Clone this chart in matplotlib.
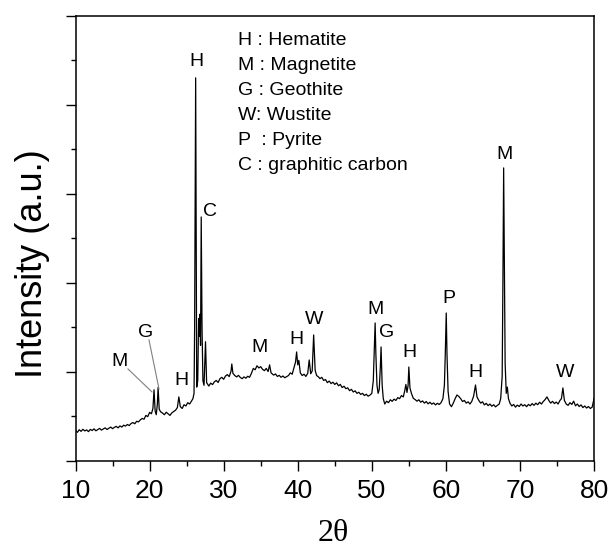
import matplotlib
matplotlib.use('Agg')
from matplotlib import pyplot as plt
from matplotlib.ticker import MultipleLocator

plt.rcParams['font.family'] = ['Liberation Sans', 'DejaVu Sans']

# XRD pattern (2-theta in degrees, intensity in a.u.)
two_theta = [
    10.00, 10.25, 10.50, 10.75, 11.00, 11.25, 11.50, 11.75, 12.00, 12.25,
    12.50, 12.75, 13.00, 13.25, 13.50, 13.75, 14.00, 14.25, 14.50, 14.75,
    15.00, 15.25, 15.50, 15.75, 16.00, 16.25, 16.50, 16.75, 17.00, 17.25,
    17.50, 17.75, 18.00, 18.25, 18.50, 18.75, 19.00, 19.25, 19.50, 19.75,
    20.00, 20.25, 20.45, 20.60, 20.75, 20.90, 21.05, 21.15, 21.30, 21.50,
    21.75, 22.00, 22.25, 22.50, 22.75, 23.00, 23.25, 23.50, 23.75, 23.95,
    24.15, 24.40, 24.65, 24.90, 25.15, 25.40, 25.65, 25.85, 26.00, 26.08,
    26.22, 26.36, 26.50, 26.62, 26.72, 26.80, 26.88, 26.97, 27.08, 27.20,
    27.35, 27.55, 27.70, 27.85, 28.00, 28.25, 28.50, 28.75, 29.00, 29.25,
    29.50, 29.75, 30.00, 30.25, 30.50, 30.75, 31.00, 31.10, 31.25, 31.50,
    31.75, 32.00, 32.25, 32.50, 32.75, 33.00, 33.25, 33.50, 33.75, 34.00,
    34.25, 34.50, 34.75, 35.00, 35.25, 35.50, 35.75, 36.00, 36.20, 36.40,
    36.75, 37.00, 37.25, 37.50, 37.75, 38.00, 38.25, 38.50, 38.75, 39.00,
    39.25, 39.50, 39.70, 39.85, 40.00, 40.15, 40.35, 40.60, 40.85, 41.10,
    41.35, 41.55, 41.75, 41.95, 42.15, 42.35, 42.55, 42.80, 43.00, 43.25,
    43.50, 43.75, 44.00, 44.25, 44.50, 44.75, 45.00, 45.25, 45.50, 45.75,
    46.00, 46.25, 46.50, 46.75, 47.00, 47.25, 47.50, 47.75, 48.00, 48.25,
    48.50, 48.75, 49.00, 49.25, 49.50, 49.75, 50.00, 50.20, 50.35, 50.45,
    50.55, 50.70, 50.85, 51.00, 51.15, 51.25, 51.40, 51.55, 51.75, 52.00,
    52.25, 52.50, 52.75, 53.00, 53.25, 53.50, 53.75, 54.00, 54.25, 54.45,
    54.60, 54.75, 54.90, 55.00, 55.15, 55.35, 55.60, 55.85, 56.10, 56.35,
    56.60, 56.85, 57.10, 57.35, 57.60, 57.85, 58.10, 58.35, 58.60, 58.85,
    59.10, 59.35, 59.60, 59.80, 59.92, 60.05, 60.15, 60.30, 60.50, 60.75,
    61.00, 61.25, 61.50, 61.75, 62.00, 62.25, 62.50, 62.75, 63.00, 63.25,
    63.50, 63.75, 64.00, 64.20, 64.45, 64.70, 64.95, 65.20, 65.45, 65.70,
    65.95, 66.20, 66.45, 66.70, 66.95, 67.20, 67.40, 67.60, 67.70, 67.80,
    67.90, 68.00, 68.15, 68.30, 68.45, 68.65, 68.90, 69.15, 69.40, 69.65,
    69.90, 70.15, 70.40, 70.65, 70.90, 71.15, 71.40, 71.65, 71.90, 72.15,
    72.40, 72.65, 72.90, 73.15, 73.40, 73.65, 73.90, 74.15, 74.40, 74.65,
    74.90, 75.15, 75.40, 75.60, 75.80, 76.00, 76.25, 76.50, 76.75, 77.00,
    77.25, 77.50, 77.75, 78.00, 78.25, 78.50, 78.75, 79.00, 79.25, 79.50,
    79.75, 79.90, 80.00,
]
intensity = [
    340, 322, 351, 333, 356, 338, 349, 330, 355, 342,
    361, 339, 352, 366, 347, 360, 372, 354, 368, 381,
    363, 378, 389, 372, 394, 381, 402, 392, 410, 398,
    421, 432, 418, 446, 439, 462, 478, 469, 512, 498,
    546, 531, 590, 800, 560, 520, 640, 825, 580, 552,
    538, 520, 548, 530, 512, 540, 556, 570, 600, 720,
    610, 590, 632, 618, 655, 640, 672, 700, 760, 1500,
    4305, 830, 900, 1600, 1400, 1650, 1300, 2742, 1500, 900,
    850, 1340, 880, 860, 842, 875, 858, 890, 905, 882,
    925, 940, 918, 955, 970, 948, 1010, 1090, 985, 960,
    945, 962, 938, 925, 945, 930, 952, 940, 985, 1040,
    1025, 1070, 1045, 1060, 1030, 1015, 1040, 1005, 1080, 990,
    965, 978, 950, 962, 940, 955, 935, 948, 960, 990,
    975, 1050, 1110, 1225, 1080, 1130, 990, 960, 975, 950,
    985, 1135, 980, 1010, 1416, 1020, 960, 945, 925, 940,
    905, 915, 880, 898, 870, 885, 860, 878, 845, 860,
    825, 840, 812, 822, 790, 805, 775, 788, 760, 772,
    748, 760, 735, 750, 728, 740, 760, 900, 1300, 1551,
    1200, 850, 760, 800, 1050, 1281, 850, 700, 640, 672,
    655, 688, 670, 695, 680, 712, 700, 735, 720, 790,
    860, 770, 850, 1056, 820, 760, 705, 690, 672, 688,
    660, 675, 650, 668, 642, 660, 638, 652, 630, 648,
    635, 655, 700, 850, 1200, 1663, 1200, 780, 640, 610,
    650, 700, 742, 725, 700, 668, 680, 650, 665, 640,
    670, 730, 854, 720, 680, 650, 665, 630, 648, 622,
    640, 615, 632, 608, 625, 640, 700, 950, 2000, 3293,
    2200, 1100, 760, 830, 700, 650, 618, 635, 605, 628,
    612, 640, 618, 632, 610, 636, 620, 645, 625, 650,
    632, 660, 640, 668, 690, 720, 680, 650, 670, 645,
    662, 640, 680, 700, 821, 680, 640, 625, 655, 635,
    672, 620, 640, 612, 630, 600, 618, 595, 612, 590,
    605, 660, 700,
]

# phase labels above the peaks
peak_labels = ['H', 'C', 'M', 'G', 'H', 'M', 'H', 'W', 'M', 'G', 'H', 'P', 'H', 'M', 'W']
label_x = [26.26, 28.15, 16.0, 19.5, 24.24, 34.9, 39.76, 42.19, 50.55, 52.03, 55.14, 60.4, 64.04, 67.9, 76.06]
label_y = [4485, 2799, 1113, 1439, 899, 1270, 1360, 1585, 1697, 1439, 1214, 1821, 989, 3439, 989]

legend_lines = ['H : Hematite', 'M : Magnetite', 'G : Geothite', 'W: Wustite',
                'P  : Pyrite', 'C : graphitic carbon']

fig = plt.figure(figsize=(6.11, 5.53), dpi=100)
ax = fig.add_axes([0.1236, 0.1664, 0.8486, 0.8047])

ax.plot(two_theta, intensity, color='black', linewidth=0.9)

for s, x, y in zip(peak_labels, label_x, label_y):
    ax.text(x, y, s, ha='center', va='center', fontsize=14)

# leader lines for the two small peaks near 21 degrees
ax.plot([17.08, 20.32], [1034, 776], color='grey', linewidth=0.8)
ax.plot([19.92, 21.27], [1360, 809], color='grey', linewidth=0.8)

for i, line in enumerate(legend_lines):
    ax.text(0.313, 0.944 - i * 0.0562, line, transform=ax.transAxes,
            ha='left', va='center', fontsize=14)

ax.set_xlim(10, 80)
ax.set_ylim(0, 5000)
ax.xaxis.set_major_locator(MultipleLocator(10))
ax.xaxis.set_minor_locator(MultipleLocator(5))
ax.yaxis.set_major_locator(MultipleLocator(1000))
ax.yaxis.set_minor_locator(MultipleLocator(500))
ax.tick_params(which='major', direction='out', length=7, width=1, labelsize=19, pad=6)
ax.tick_params(which='minor', direction='out', length=3.5, width=1)
ax.tick_params(axis='y', labelleft=False)
for sp in ax.spines.values():
    sp.set_linewidth(1.1)

ax.set_ylabel('Intensity (a.u.)', fontsize=26)
ax.yaxis.set_label_coords(-0.05, 0.443)
ax.set_xlabel('2θ', fontsize=23, family=['Liberation Serif'])
ax.xaxis.set_label_coords(0.497, -0.13)

plt.savefig('out.png', dpi=100)
